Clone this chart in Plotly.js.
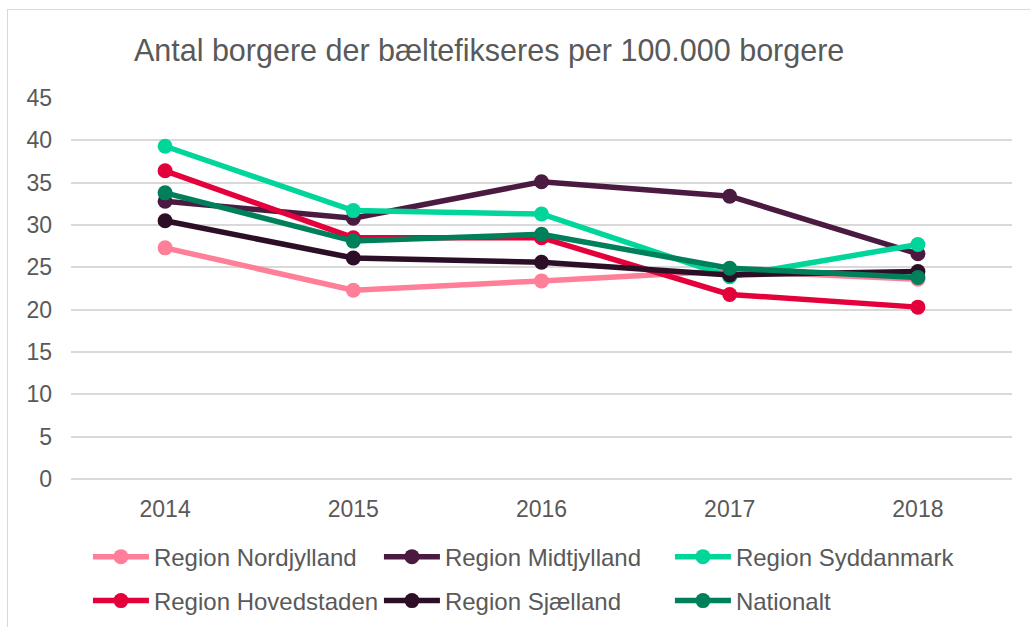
<!DOCTYPE html>
<html>
<head>
<meta charset="utf-8">
<script src="https://cdn.plot.ly/plotly-3.0.1.min.js"></script>
<style>
  html, body { margin: 0; padding: 0; background: #ffffff; }
  #wrap { position: relative; width: 1030px; height: 627px; overflow: hidden; }
  #chart { position: absolute; left: 0; top: 0; width: 1030px; height: 627px; }
  #frame { position: absolute; left: 7px; top: 9px; width: 1100px; height: 700px;
           border-left: 1px solid #d9d9d9; border-top: 1px solid #d9d9d9; pointer-events: none; }
</style>
</head>
<body>
<div id="wrap">
  <div id="chart"></div>
  <div id="frame"></div>
</div>
<script>
const years = ["2014", "2015", "2016", "2017", "2018"];
const seriesNames = ["Region Nordjylland", "Region Midtjylland", "Region Syddanmark",
                     "Region Hovedstaden", "Region Sjælland", "Nationalt"];
const nordjylland = [27.3, 22.3, 23.4, 24.6, 23.6];
const midtjylland = [32.8, 30.8, 35.1, 33.4, 26.6];
const syddanmark  = [39.3, 31.7, 31.3, 23.9, 27.7];
const hovedstaden = [36.4, 28.5, 28.5, 21.8, 20.3];
const sjaelland   = [30.5, 26.1, 25.6, 24.1, 24.5];
const nationalt   = [33.8, 28.1, 28.9, 24.9, 23.8];
const yTicks = [0, 5, 10, 15, 20, 25, 30, 35, 40, 45];

const colors = ["#FF7F98", "#4A1A40", "#00D69A", "#E4003B", "#2C0F27", "#00805A"];
const values = [nordjylland, midtjylland, syddanmark, hovedstaden, sjaelland, nationalt];
const legendOf = ["legend", "legend", "legend", "legend2", "legend2", "legend2"];

const traces = values.map((v, i) => ({
  type: "scatter",
  mode: "lines+markers",
  x: years,
  y: v,
  name: seriesNames[i],
  legend: legendOf[i],
  line: { color: colors[i], width: 5.5 },
  marker: { color: colors[i], size: 15 },
  hoverinfo: "x+y+name"
}));

const legendFont = { family: "Liberation Sans, Arial, sans-serif", size: 24, color: "#595959" };

const layout = {
  width: 1030,
  height: 627,
  paper_bgcolor: "#ffffff",
  plot_bgcolor: "#ffffff",
  margin: { l: 71, r: 18, t: 98, b: 148, autoexpand: false },
  title: {
    text: "Antal borgere der bæltefikseres per 100.000 borgere",
    font: { family: "Liberation Sans, Arial, sans-serif", size: 30.5, color: "#595959" },
    x: 0.130, xanchor: "left", xref: "container",
    y: 0.92, yref: "container", yanchor: "middle"
  },
  xaxis: {
    type: "category",
    range: [-0.5, 4.5],
    showgrid: false,
    zeroline: false,
    showline: false,
    ticks: "",
    ticklabelstandoff: 14,
    tickfont: { family: "Liberation Sans, Arial, sans-serif", size: 23, color: "#595959" },
    fixedrange: true
  },
  yaxis: {
    range: [0, 45],
    tickvals: yTicks,
    ticktext: yTicks.map(String),
    showgrid: true,
    gridcolor: "#d9d9d9",
    gridwidth: 1.5,
    zeroline: true,
    zerolinecolor: "#d9d9d9",
    zerolinewidth: 1.5,
    showline: false,
    ticks: "",
    ticklabelstandoff: 18,
    tickfont: { family: "Liberation Sans, Arial, sans-serif", size: 23, color: "#595959" },
    fixedrange: true
  },
  showlegend: true,
  legend: {
    orientation: "h",
    x: 0.018, xanchor: "left",
    y: 0.1116, yanchor: "middle", yref: "container",
    font: legendFont,
    itemwidth: 56,
    entrywidth: 220, entrywidthmode: "pixels",
    bgcolor: "rgba(0,0,0,0)"
  },
  legend2: {
    orientation: "h",
    x: 0.018, xanchor: "left",
    y: 0.0415, yanchor: "middle", yref: "container",
    font: legendFont,
    itemwidth: 56,
    entrywidth: 220, entrywidthmode: "pixels",
    bgcolor: "rgba(0,0,0,0)"
  },
  hovermode: "closest"
};

Plotly.newPlot("chart", traces, layout, { displayModeBar: false, responsive: false });
</script>
</body>
</html>
